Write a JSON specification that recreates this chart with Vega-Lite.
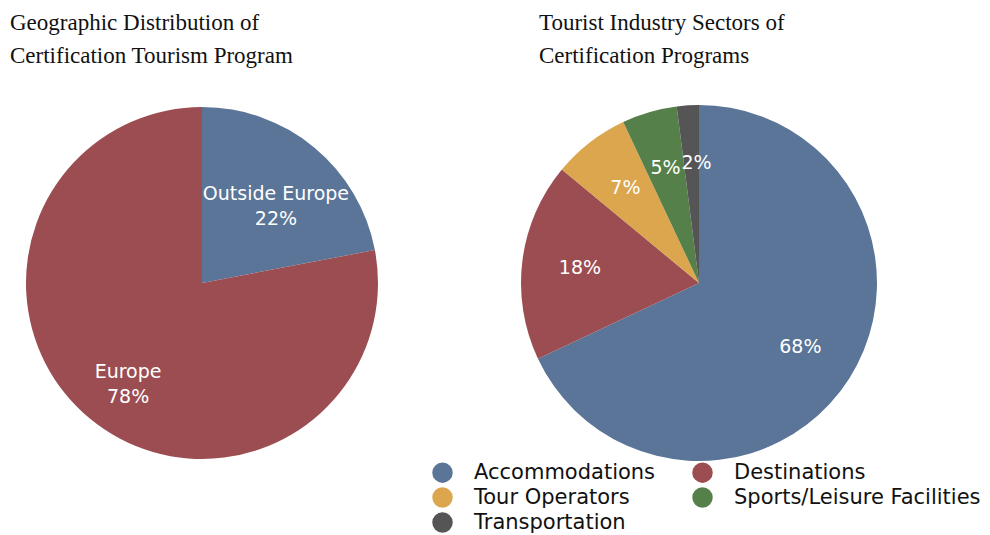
{
  "$schema": "https://vega.github.io/schema/vega-lite/v6.json",
  "padding": {"left": 10, "top": 12, "right": 0, "bottom": 0},
  "background": "white",
  "config": {
    "view": {"stroke": null},
    "title": {"font": "Liberation Serif", "fontSize": 23, "fontWeight": "normal", "color": "#111111", "anchor": "start", "lineHeight": 33},
    "concat": {"spacing": 38}
  },
  "datasets": {
    "geo": [
      {"region": "Outside Europe", "pct": 22, "ord": 1, "label": "Outside Europe\n22%"},
      {"region": "Europe", "pct": 78, "ord": 2, "label": "Europe\n78%"}
    ],
    "sector": [
      {"sector": "Accommodations", "pct": 68, "ord": 1, "label": "68%"},
      {"sector": "Destinations", "pct": 18, "ord": 2, "label": "18%"},
      {"sector": "Tour Operators", "pct": 7, "ord": 3, "label": "7%"},
      {"sector": "Sports/Leisure Facilities", "pct": 5, "ord": 4, "label": "5%"},
      {"sector": "Transportation", "pct": 2, "ord": 5, "label": "2%"}
    ]
  },
  "resolve": {"scale": {"color": "independent"}, "legend": {"color": "independent"}},
  "hconcat": [
    {
      "width": 384,
      "height": 422,
      "title": {"text": ["Geographic Distribution of", "Certification Tourism Program"]},
      "data": {"name": "geo"},
      "encoding": {
        "theta": {"field": "pct", "type": "quantitative", "stack": true},
        "order": {"field": "ord", "type": "quantitative"}
      },
      "layer": [
        {
          "mark": {"type": "arc", "outerRadius": 176},
          "encoding": {
            "color": {"field": "region", "type": "nominal", "scale": {"domain": ["Outside Europe", "Europe"], "range": ["#5a7598", "#9c4d52"]}, "legend": null}
          }
        },
        {
          "mark": {"type": "text", "radius": 116, "font": "DejaVu Sans", "fontSize": 19, "color": "white", "lineBreak": "\n", "lineHeight": 25, "baseline": "middle"},
          "encoding": {"text": {"field": "label", "type": "nominal"}}
        }
      ]
    },
    {
      "width": 380,
      "height": 422,
      "title": {"text": ["Tourist Industry Sectors of", "Certification Programs"], "dx": 107},
      "data": {"name": "sector"},
      "encoding": {
        "theta": {"field": "pct", "type": "quantitative", "stack": true},
        "order": {"field": "ord", "type": "quantitative"}
      },
      "layer": [
        {
          "mark": {"type": "arc", "outerRadius": 178},
          "encoding": {
            "color": {
              "field": "sector", "type": "nominal",
              "scale": {"domain": ["Accommodations", "Destinations", "Tour Operators", "Sports/Leisure Facilities", "Transportation"], "range": ["#5a7598", "#9c4d52", "#dba64e", "#56804a", "#555555"]},
              "legend": {
                "title": null, "orient": "none", "legendX": -77, "legendY": 390, "columns": 2, "direction": "horizontal",
                "symbolType": "circle", "symbolSize": 420, "symbolStrokeWidth": 0, "symbolOpacity": 1,
                "labelFont": "DejaVu Sans", "labelFontSize": 21, "labelColor": "#111111", "labelOffset": 21,
                "rowPadding": 3, "columnPadding": 36, "labelLimit": 400
              }
            }
          }
        },
        {
          "mark": {"type": "text", "radius": 120, "font": "DejaVu Sans", "fontSize": 19, "color": "white", "baseline": "middle"},
          "encoding": {"text": {"condition": {"test": "datum.sector !== 'Transportation'", "field": "label"}, "value": ""}}
        },
        {
          "mark": {"type": "text", "radius": 120, "font": "DejaVu Sans", "fontSize": 19, "color": "white", "baseline": "middle", "align": "left", "dx": -10},
          "encoding": {"text": {"condition": {"test": "datum.sector === 'Transportation'", "field": "label"}, "value": ""}}
        }
      ]
    }
  ]
}
